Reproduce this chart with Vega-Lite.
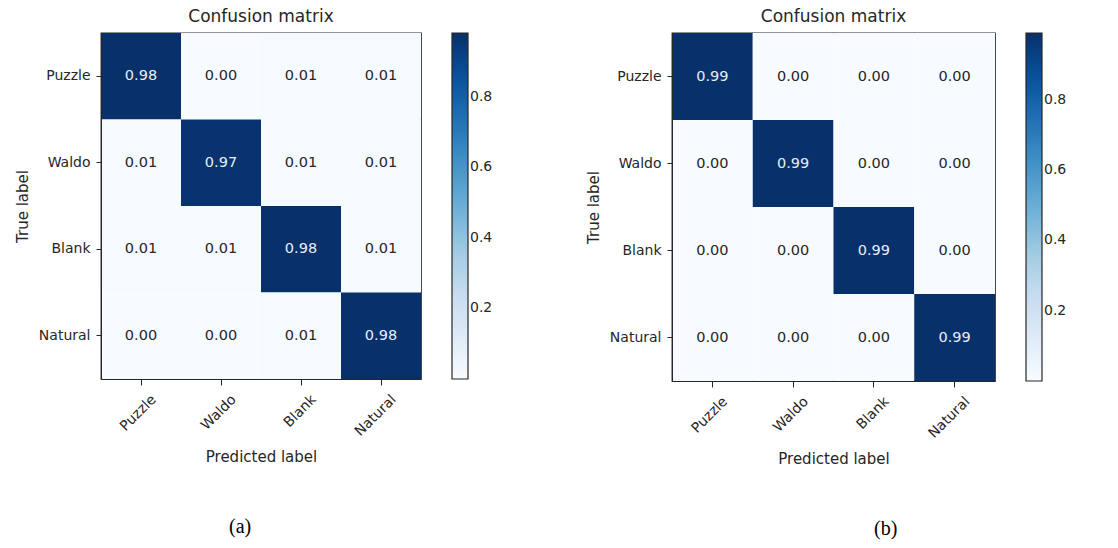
{
  "$schema": "https://vega.github.io/schema/vega-lite/v6.json",
  "background": "white",
  "padding": {"left": 14, "top": 7, "right": 5, "bottom": 5},
  "datasets": {
    "a": [
      {"actual": "Puzzle", "predicted": "Puzzle", "value": 0.98},
      {"actual": "Puzzle", "predicted": "Waldo", "value": 0.0},
      {"actual": "Puzzle", "predicted": "Blank", "value": 0.01},
      {"actual": "Puzzle", "predicted": "Natural", "value": 0.01},
      {"actual": "Waldo", "predicted": "Puzzle", "value": 0.01},
      {"actual": "Waldo", "predicted": "Waldo", "value": 0.97},
      {"actual": "Waldo", "predicted": "Blank", "value": 0.01},
      {"actual": "Waldo", "predicted": "Natural", "value": 0.01},
      {"actual": "Blank", "predicted": "Puzzle", "value": 0.01},
      {"actual": "Blank", "predicted": "Waldo", "value": 0.01},
      {"actual": "Blank", "predicted": "Blank", "value": 0.98},
      {"actual": "Blank", "predicted": "Natural", "value": 0.01},
      {"actual": "Natural", "predicted": "Puzzle", "value": 0.0},
      {"actual": "Natural", "predicted": "Waldo", "value": 0.0},
      {"actual": "Natural", "predicted": "Blank", "value": 0.01},
      {"actual": "Natural", "predicted": "Natural", "value": 0.98}
    ],
    "b": [
      {"actual": "Puzzle", "predicted": "Puzzle", "value": 0.99},
      {"actual": "Puzzle", "predicted": "Waldo", "value": 0.0},
      {"actual": "Puzzle", "predicted": "Blank", "value": 0.0},
      {"actual": "Puzzle", "predicted": "Natural", "value": 0.0},
      {"actual": "Waldo", "predicted": "Puzzle", "value": 0.0},
      {"actual": "Waldo", "predicted": "Waldo", "value": 0.99},
      {"actual": "Waldo", "predicted": "Blank", "value": 0.0},
      {"actual": "Waldo", "predicted": "Natural", "value": 0.0},
      {"actual": "Blank", "predicted": "Puzzle", "value": 0.0},
      {"actual": "Blank", "predicted": "Waldo", "value": 0.0},
      {"actual": "Blank", "predicted": "Blank", "value": 0.99},
      {"actual": "Blank", "predicted": "Natural", "value": 0.0},
      {"actual": "Natural", "predicted": "Puzzle", "value": 0.0},
      {"actual": "Natural", "predicted": "Waldo", "value": 0.0},
      {"actual": "Natural", "predicted": "Blank", "value": 0.0},
      {"actual": "Natural", "predicted": "Natural", "value": 0.99}
    ]
  },
  "config": {
    "font": "DejaVu Sans",
    "view": {"stroke": "#262626", "strokeWidth": 1.3},
    "concat": {"spacing": 91},
    "axis": {
      "domainColor": "#262626",
      "tickColor": "#262626",
      "labelColor": "#262626",
      "titleColor": "#262626",
      "labelFont": "DejaVu Sans",
      "titleFont": "DejaVu Sans",
      "labelFontSize": 14,
      "titleFontSize": 15,
      "titleFontWeight": "normal",
      "grid": false
    },
    "axisX": {"labelAngle": -45, "labelAlign": "right", "labelBaseline": "middle", "labelOffset": 13, "tickSize": 6, "labelPadding": 12, "titlePadding": 11},
    "axisY": {"labelAngle": 0, "tickSize": 5, "labelPadding": 6, "titlePadding": 8},
    "legend": {
      "orient": "right",
      "offset": 31,
      "direction": "vertical",
      "gradientThickness": 16,
      "gradientStrokeColor": "#262626",
      "gradientStrokeWidth": 1.2,
      "labelFont": "DejaVu Sans",
      "labelFontSize": 14,
      "labelColor": "#262626",
      "labelOffset": 11,
      "labelOverlap": false
    },
    "title": {"font": "DejaVu Sans", "fontSize": 17, "fontWeight": "normal", "color": "#262626", "anchor": "middle", "offset": 7}
  },
  "hconcat": [
    {
      "title": {"text": "(a)", "orient": "bottom", "anchor": "middle", "frame": "bounds", "font": "Liberation Serif", "fontSize": 20, "fontWeight": "normal", "color": "#000000", "offset": 52, "dx": -14},
      "vconcat": [
        {
          "title": "Confusion matrix",
          "width": 320,
          "height": 346,
          "data": {"name": "a"},
          "encoding": {
            "x": {"field": "predicted", "type": "nominal", "sort": ["Puzzle", "Waldo", "Blank", "Natural"], "scale": {"paddingInner": 0, "paddingOuter": 0}, "axis": {"title": "Predicted label"}},
            "y": {"field": "actual", "type": "nominal", "sort": ["Puzzle", "Waldo", "Blank", "Natural"], "scale": {"paddingInner": 0, "paddingOuter": 0}, "axis": {"title": "True label"}}
          },
          "layer": [
            {
              "mark": {"type": "rect"},
              "encoding": {
                "color": {
                  "field": "value", "type": "quantitative",
                  "scale": {"domain": [0, 0.1225, 0.245, 0.3675, 0.49, 0.6125, 0.735, 0.8575, 0.98], "range": ["#f7fbff", "#deebf7", "#c6dbef", "#9ecae1", "#6baed6", "#4292c6", "#2171b5", "#08519c", "#08306b"], "interpolate": "rgb"},
                  "legend": {"title": null, "values": [0.2, 0.4, 0.6, 0.8], "gradientLength": 346, "format": ".1f"}
                }
              }
            },
            {
              "mark": {"type": "text", "font": "DejaVu Sans", "fontSize": 14.5},
              "encoding": {
                "text": {"field": "value", "type": "quantitative", "format": ".2f"},
                "color": {"condition": {"test": "datum.value > 0.5", "value": "#e8edf5"}, "value": "#262626"}
              }
            }
          ]
        }
      ],
      "resolve": {"scale": {"color": "independent"}, "legend": {"color": "independent"}}
    },
    {
      "title": {"text": "(b)", "orient": "bottom", "anchor": "middle", "frame": "bounds", "font": "Liberation Serif", "fontSize": 20, "fontWeight": "normal", "color": "#000000", "offset": 52, "dx": 59},
      "vconcat": [
        {
          "title": "Confusion matrix",
          "width": 323,
          "height": 348,
          "data": {"name": "b"},
          "encoding": {
            "x": {"field": "predicted", "type": "nominal", "sort": ["Puzzle", "Waldo", "Blank", "Natural"], "scale": {"paddingInner": 0, "paddingOuter": 0}, "axis": {"title": "Predicted label"}},
            "y": {"field": "actual", "type": "nominal", "sort": ["Puzzle", "Waldo", "Blank", "Natural"], "scale": {"paddingInner": 0, "paddingOuter": 0}, "axis": {"title": "True label"}}
          },
          "layer": [
            {
              "mark": {"type": "rect"},
              "encoding": {
                "color": {
                  "field": "value", "type": "quantitative",
                  "scale": {"domain": [0, 0.12375, 0.2475, 0.37125, 0.495, 0.61875, 0.7425, 0.86625, 0.99], "range": ["#f7fbff", "#deebf7", "#c6dbef", "#9ecae1", "#6baed6", "#4292c6", "#2171b5", "#08519c", "#08306b"], "interpolate": "rgb"},
                  "legend": {"title": null, "values": [0.2, 0.4, 0.6, 0.8], "gradientLength": 348, "format": ".1f"}
                }
              }
            },
            {
              "mark": {"type": "text", "font": "DejaVu Sans", "fontSize": 14.5},
              "encoding": {
                "text": {"field": "value", "type": "quantitative", "format": ".2f"},
                "color": {"condition": {"test": "datum.value > 0.5", "value": "#e8edf5"}, "value": "#262626"}
              }
            }
          ]
        }
      ],
      "resolve": {"scale": {"color": "independent"}, "legend": {"color": "independent"}}
    }
  ],
  "resolve": {"scale": {"color": "independent"}, "legend": {"color": "independent"}}
}
